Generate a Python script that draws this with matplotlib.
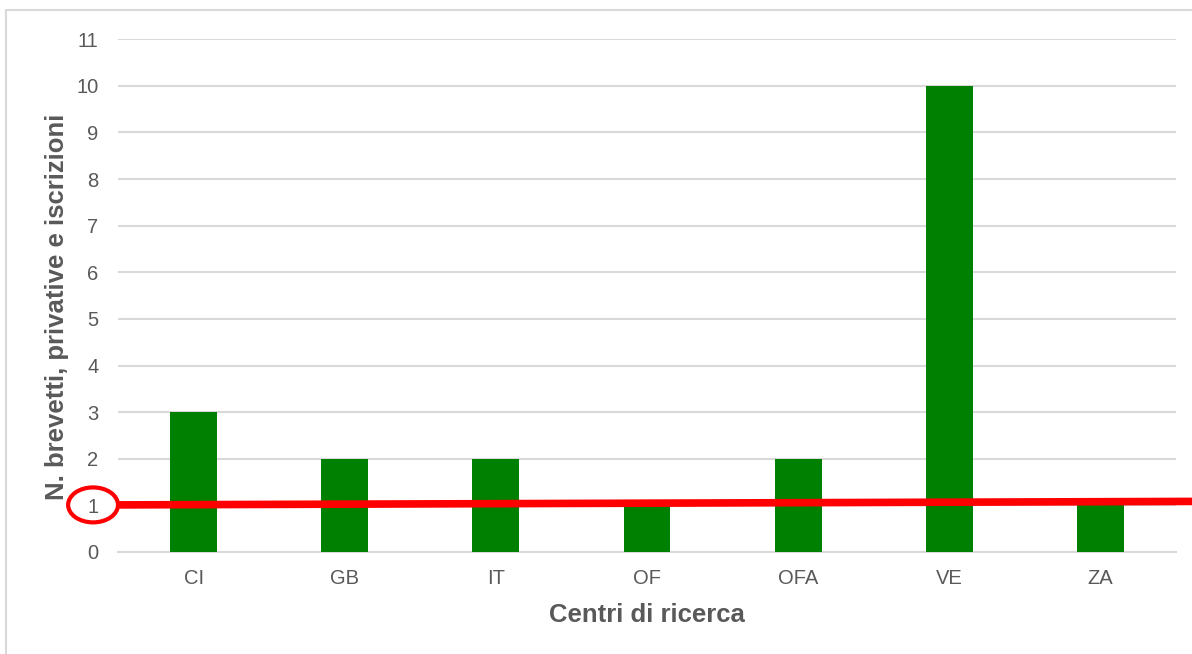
import matplotlib.pyplot as plt
import numpy as np
from matplotlib.patches import Ellipse, Rectangle
from matplotlib.lines import Line2D

plt.rcParams['font.family'] = ['Liberation Sans', 'DejaVu Sans']

# data
centri = ['CI', 'GB', 'IT', 'OF', 'OFA', 'VE', 'ZA']
n_brevetti = [3, 2, 2, 1, 2, 10, 1]
soglia = 1

text_col = '#595959'
grid_col = '#d9d9d9'


def bar_plot():
    fig = plt.figure(figsize=(11.92, 6.54), dpi=100)
    ax = fig.add_axes([0.099, 0.156, 0.8876, 0.784])

    ind = np.arange(len(centri))
    ax.bar(ind, n_brevetti, 0.31, color='#008000', zorder=3)

    ax.set_xlim(-0.5, len(centri) - 0.5)
    ax.set_ylim(0, 11)
    ax.set_yticks(range(0, 12))
    ax.set_xticks(ind)
    ax.set_xticklabels(centri)

    ax.yaxis.grid(True, color=grid_col, linewidth=1.5, zorder=0)
    for s in ['top', 'right', 'left']:
        ax.spines[s].set_visible(False)
    ax.spines['bottom'].set_color(grid_col)
    ax.spines['bottom'].set_linewidth(1.5)
    ax.tick_params(length=0, labelsize=14.5, colors=text_col)
    ax.tick_params(axis='y', pad=14)
    ax.tick_params(axis='x', pad=12)

    ax.set_xlabel('Centri di ricerca', fontsize=18.5, fontweight='bold',
                  color=text_col, labelpad=11)
    ax.set_ylabel('N. brevetti, privative e iscrizioni', fontsize=18.5,
                  fontweight='bold', color=text_col, labelpad=5, y=0.478)

    # red threshold line + circle round the "1" label
    ax.add_line(Line2D([-0.5, 6.61], [soglia + 0.01, soglia + 0.085],
                       color='#ff0000', linewidth=5.5, clip_on=False,
                       zorder=5, solid_capstyle='butt'))
    ax.add_patch(Ellipse((-0.665, soglia + 0.01), 0.33, 0.75, fill=False,
                         edgecolor='#ff0000', linewidth=3, clip_on=False,
                         zorder=5))

    # chart frame
    fig.patches.append(Rectangle((6 / 1192, -0.1), 1.2, 1 - 10 / 654 + 0.1,
                                 transform=fig.transFigure, fill=False,
                                 edgecolor=grid_col, linewidth=1.5))

    fig.savefig('out.png', dpi=100)


if __name__ == '__main__':
    bar_plot()
